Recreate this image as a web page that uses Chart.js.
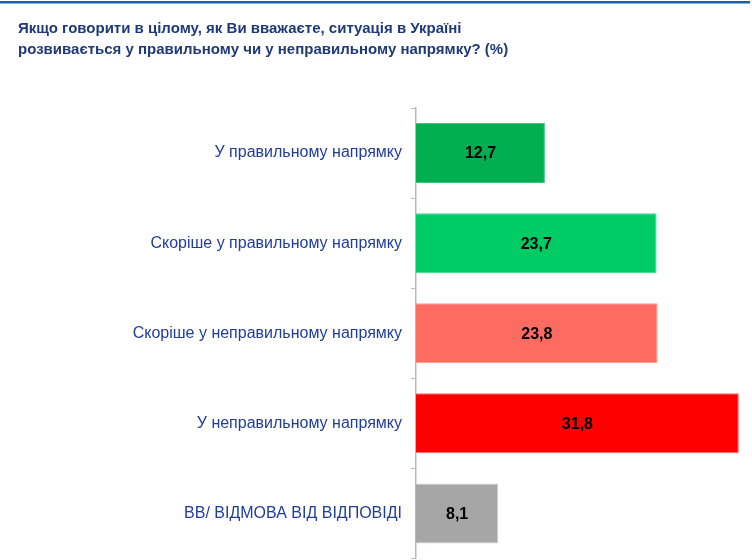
<!DOCTYPE html>
<html>
<head>
<meta charset="utf-8">
<script src="https://cdn.jsdelivr.net/npm/chart.js@4.4.0/dist/chart.umd.min.js"></script>
<style>
html,body{margin:0;padding:0;background:#fff;}
#wrap{position:relative;width:752px;height:560px;}
</style>
</head>
<body>
<div id="wrap"><canvas id="c" width="752" height="560"></canvas></div>
<script>
const titleLines = ["Якщо говорити в цілому, як Ви вважаєте, ситуація в Україні", "розвивається у правильному чи у неправильному напрямку? (%)"];
const categories = ["У правильному напрямку", "Скоріше у правильному напрямку", "Скоріше у неправильному напрямку", "У неправильному напрямку", "ВВ/ ВІДМОВА ВІД ВІДПОВІДІ"];
const values = [12.7, 23.7, 23.8, 31.8, 8.1];
const barColors = ["#00b050", "#00cc66", "#ff6b61", "#ff0000", "#a6a6a6"];
const barBorders = ["#40c47c", "#40d98c", "#ff9a92", "#ff7070", "#cfcfcf"];

const topLine = {
  id: 'topLine',
  beforeDraw(chart) {
    const ctx = chart.ctx;
    ctx.save();
    ctx.fillStyle = '#1f5fa8';
    ctx.fillRect(0, 1, 750, 2.5);
    ctx.restore();
  }
};
const valueLabels = {
  id: 'valueLabels',
  afterDatasetsDraw(chart) {
    const ctx = chart.ctx;
    const meta = chart.getDatasetMeta(0);
    ctx.save();
    ctx.font = 'bold 16px "Liberation Sans", Arial, sans-serif';
    ctx.fillStyle = '#000';
    ctx.textAlign = 'center';
    ctx.textBaseline = 'middle';
    meta.data.forEach((bar, i) => {
      const x = (bar.base + bar.x) / 2;
      ctx.fillText(values[i].toFixed(1).replace('.', ','), x, bar.y + 1);
    });
    ctx.restore();
  }
};

new Chart(document.getElementById('c'), {
  type: 'bar',
  data: {
    labels: categories,
    datasets: [{
      data: values,
      backgroundColor: barColors,
      borderColor: barBorders,
      borderWidth: 1,
      barPercentage: 0.666,
      categoryPercentage: 1.0
    }]
  },
  options: {
    indexAxis: 'y',
    responsive: false,
    animation: false,
    devicePixelRatio: 1,
    layout: { padding: { left: 18, right: 1, top: 0, bottom: 1.5 } },
    plugins: {
      legend: { display: false },
      tooltip: { enabled: false },
      title: {
        display: true,
        text: titleLines,
        align: 'start',
        color: '#1f3a78',
        font: { family: '"Liberation Sans", Arial, sans-serif', size: 15, weight: 'bold', lineHeight: 1.4 },
        padding: { top: 18, bottom: 48 }
      }
    },
    scales: {
      x: { display: false, min: 0, max: 33 },
      y: {
        afterFit(scale) { scale.width = 398; scale.paddingTop = 0; scale.paddingBottom = 0; },
        grid: { display: true, offset: true, drawOnChartArea: false, drawTicks: true, tickLength: 5, color: '#b4b8cc' },
        border: { display: true, color: '#b4b8cc', width: 1.5 },
        ticks: {
          color: '#203c9c',
          padding: 9,
          font: { family: '"Liberation Sans", Arial, sans-serif', size: 16 }
        }
      }
    }
  },
  plugins: [topLine, valueLabels]
});
</script>
</body>
</html>
